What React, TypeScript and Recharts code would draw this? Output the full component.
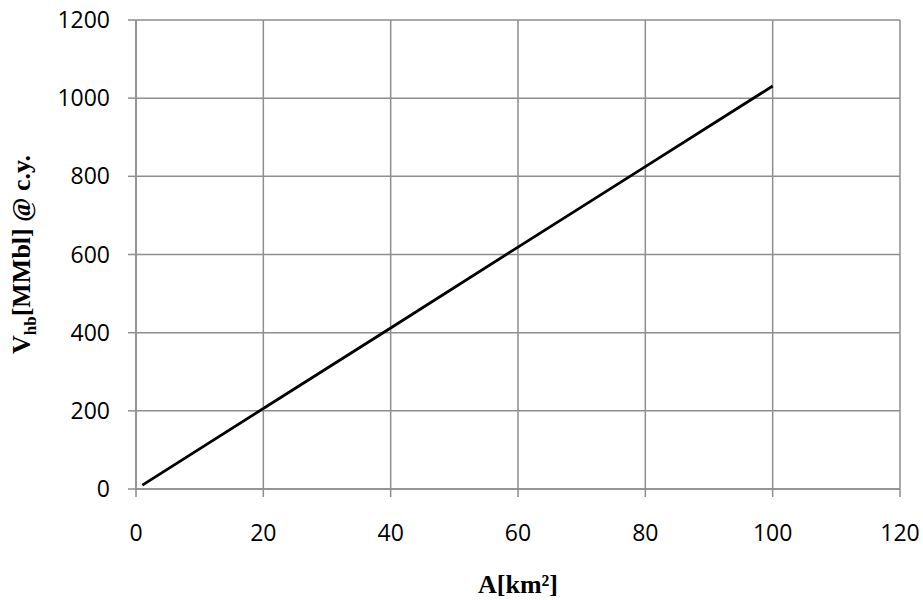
import React from "react";
import { LineChart, Line, XAxis, YAxis, CartesianGrid, Label } from "recharts";

// area of the field (km²) vs. hydrocarbon volume at current year (MMbl)
const areas = [1, 20, 40, 60, 80, 100];
const volumes = [10, 206, 412, 619, 825, 1031];

const xTicks = [0, 20, 40, 60, 80, 100, 120];
const yTicks = [0, 200, 400, 600, 800, 1000, 1200];

const data = areas.map((a, i) => ({ area: a, volume: volumes[i] }));

const GRID = "#8e8e8e";
const TICK_FONT = { fontFamily: "'Open Sans', sans-serif", fontSize: 23, fill: "#000" };
const TITLE_FONT = "'Liberation Serif', 'Times New Roman', serif";

function XTitle(props: any) {
  const vb = props.viewBox || {};
  return (
    <text
      x={vb.x + vb.width / 2}
      y={vb.y + 104}
      textAnchor="middle"
      fontFamily={TITLE_FONT}
      fontWeight="bold"
      fontSize={26}
      fill="#000"
    >
      A[km²]
    </text>
  );
}

function YTitle(props: any) {
  const vb = props.viewBox || {};
  const cy = vb.y + vb.height / 2;
  return (
    <text
      transform={`translate(30, ${cy}) rotate(-90)`}
      x={0}
      y={0}
      textAnchor="middle"
      fontFamily={TITLE_FONT}
      fontWeight="bold"
      fontSize={26}
      fill="#000"
    >
      V
      <tspan fontSize={17} dy={6}>
        hb
      </tspan>
      <tspan dy={-6}>[MMbl] @ c.y.</tspan>
    </text>
  );
}

export default function App() {
  return (
    <div style={{ position: "absolute", left: 0, top: 0, background: "#fff" }}>
      <LineChart
        width={923}
        height={600}
        data={data}
        margin={{ top: 20, right: 23, left: 0, bottom: 0 }}
      >
        <CartesianGrid stroke={GRID} strokeWidth={1.5} />
        <XAxis
          dataKey="area"
          type="number"
          domain={[0, 120]}
          ticks={xTicks}
          height={111}
          tickSize={8}
          tickMargin={28}
          stroke={GRID}
          strokeWidth={1.5}
          tick={TICK_FONT}
          interval={0}
        >
          <Label content={<XTitle />} />
        </XAxis>
        <YAxis
          type="number"
          domain={[0, 1200]}
          ticks={yTicks}
          width={136}
          tickSize={8}
          tickMargin={18}
          stroke={GRID}
          strokeWidth={1.5}
          tick={TICK_FONT}
          interval={0}
        >
          <Label content={<YTitle />} />
        </YAxis>
        <Line
          dataKey="volume"
          type="linear"
          stroke="#000"
          strokeWidth={2.8}
          dot={false}
          activeDot={false}
          isAnimationActive={false}
        />
      </LineChart>
    </div>
  );
}
